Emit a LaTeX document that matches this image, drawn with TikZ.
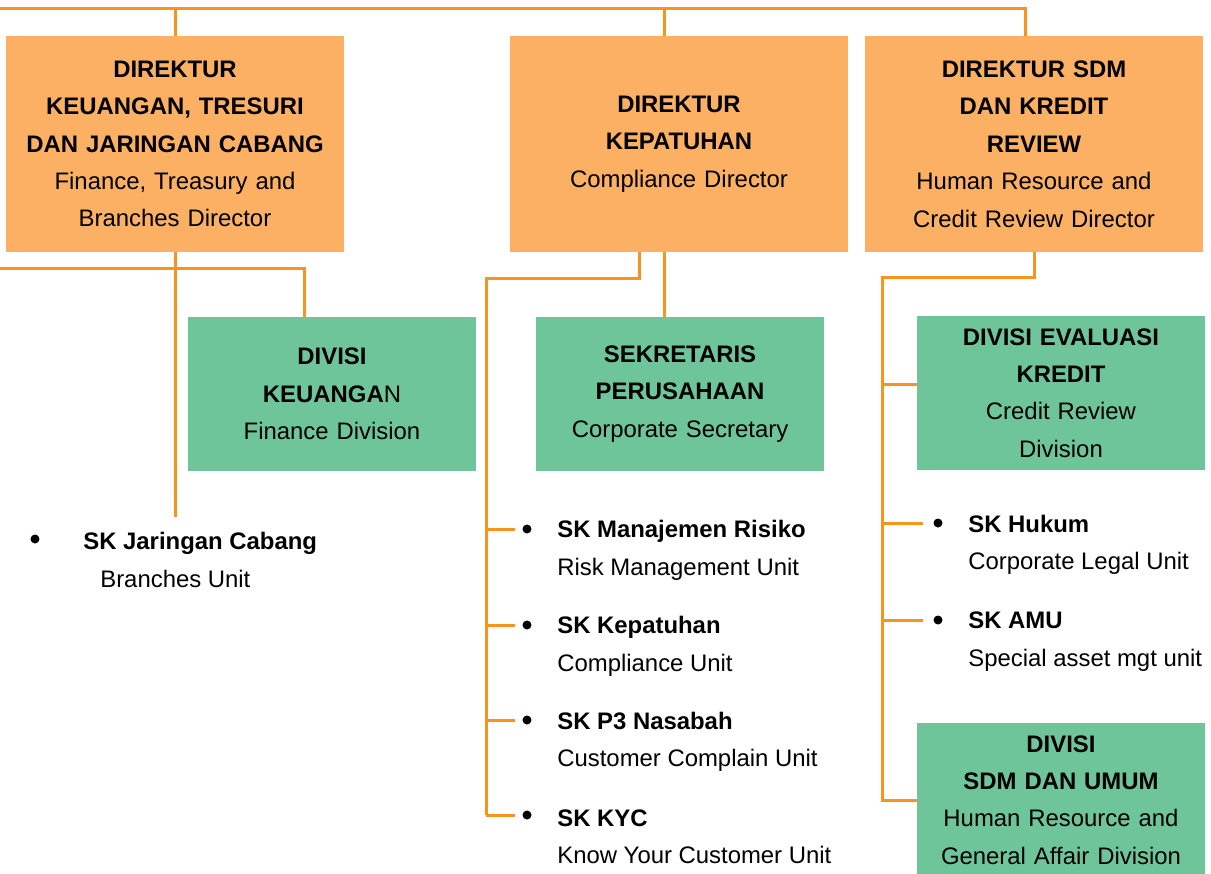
\documentclass[tikz,border=0pt]{standalone}
\usepackage{fontspec}
\setmainfont{Liberation Sans}
\usetikzlibrary{calc}
\definecolor{dirfill}{HTML}{FBB064}
\definecolor{divfill}{HTML}{6FC59A}
\definecolor{linkc}{HTML}{F7941D}

\tikzset{
  dirbox/.style={fill=dirfill, minimum width=6.76cm, minimum height=4.32cm, text width=6.6cm, align=center, inner sep=0pt},
  divbox/.style={fill=divfill, minimum width=5.76cm, minimum height=3.08cm, text width=5.6cm, align=center, inner sep=0pt},
  unit/.style={anchor=west, align=left, inner sep=0pt},
  dot/.style={circle, fill=black, minimum size=0.18cm, inner sep=0pt},
  link/.style={linkc, line width=0.06cm},
}

\begin{document}
\begin{tikzpicture}[x=0.02cm, y=-0.02cm, font=\fontsize{13.6}{21.3}\selectfont]
  \path[use as bounding box, clip] (0,0) rectangle (1211,873);

  % directors
  \node[dirbox] (dkeu) at (175,144) {\textbf{DIREKTUR}\\\textbf{KEUANGAN, TRESURI}\\\textbf{DAN JARINGAN CABANG}\\Finance, Treasury and\\Branches Director};
  \node[dirbox] (dkep) at (679,144) {\textbf{DIREKTUR}\\\textbf{KEPATUHAN}\\Compliance Director};
  \node[dirbox] (dsdm) at (1034,144) {\textbf{DIREKTUR SDM}\\\textbf{DAN KREDIT}\\\textbf{REVIEW}\\Human Resource and\\Credit Review Director};

  % divisions
  \node[divbox] (gkeu) at (332,394) {\textbf{DIVISI}\\\textbf{KEUANGA}N\\Finance Division};
  \node[divbox] (gsek) at (680,394) {\textbf{SEKRETARIS}\\\textbf{PERUSAHAAN}\\Corporate Secretary};
  \node[divbox] (geval) at (1061,393) {\textbf{DIVISI EVALUASI}\\\textbf{KREDIT}\\Credit Review\\Division};
  \node[divbox] (gumum) at (1061,800) {\textbf{DIVISI}\\\textbf{SDM DAN UMUM}\\Human Resource and\\General Affair Division};

  % units
  \node[dot] (bjc) at (35,539) {};
  \node[unit] (skjc) at (83,560) {\textbf{SK Jaringan Cabang}\\\hspace*{0.34cm}Branches Unit};
  \node[dot] (bmr) at (527,529) {};
  \node[unit] (skmr) at (557,550.5) {\textbf{SK Manajemen Risiko}\\Risk Management Unit};
  \node[dot] (bkp) at (527,625) {};
  \node[unit] (skkp) at (557,646.5) {\textbf{SK Kepatuhan}\\Compliance Unit};
  \node[dot] (bp3) at (527,720) {};
  \node[unit] (skp3) at (557,742) {\textbf{SK P3 Nasabah}\\Customer Complain Unit};
  \node[dot] (bkyc) at (527,815) {};
  \node[unit] (skkyc) at (557,836.5) {\textbf{SK KYC}\\Know Your Customer Unit};
  \node[dot] (bhk) at (938,523) {};
  \node[unit] (skhk) at (968,545) {\textbf{SK Hukum}\\Corporate Legal Unit};
  \node[dot] (bamu) at (938,620) {};
  \node[unit] (skamu) at (968,641.5) {\textbf{SK AMU}\\Special asset mgt unit};

  % top rail
  \coordinate (rail) at (0,8);
  \coordinate (kepin) at ($(dkep.north)+(-15,0)$);
  \draw[link] (rail) -| ($(dsdm.north)+(-9,0)$);
  \draw[link] (dkeu.north) -- (dkeu.north |- rail);
  \draw[link] (kepin) -- (kepin |- rail);

  % keuangan
  \coordinate (keurail) at (0,268);
  \coordinate (keuin) at ($(gkeu.north)+(-28,0)$);
  \coordinate (jcend) at (175,517);
  \draw[link] (dkeu.south) -- (jcend);
  \draw[link] (keurail) -| (keuin);

  % kepatuhan
  \coordinate (kepout) at ($(dkep.south)+(-40,0)$);
  \coordinate (kepbus) at (486,278);
  \coordinate (sekin) at ($(gsek.north)+(-16,0)$);
  \draw[link] (kepout) |- (kepbus) -- (kepbus |- bkyc);
  \draw[link] (sekin |- dkep.south) -- (sekin);
  \foreach \b in {bmr,bkp,bp3,bkyc}
    \draw[link] (kepbus |- \b) -- ([xshift=-0.14cm]\b.west);

  % sdm
  \coordinate (sdmbus) at (882,277);
  \coordinate (evalin) at ($(geval.west)+(0,-9)$);
  \draw[link] (dsdm.south) |- (sdmbus) -- (sdmbus |- gumum.west) -- (gumum.west);
  \draw[link] (sdmbus |- evalin) -- (evalin);
  \foreach \b in {bhk,bamu}
    \draw[link] (sdmbus |- \b) -- ([xshift=-0.2cm]\b.west);
\end{tikzpicture}
\end{document}
